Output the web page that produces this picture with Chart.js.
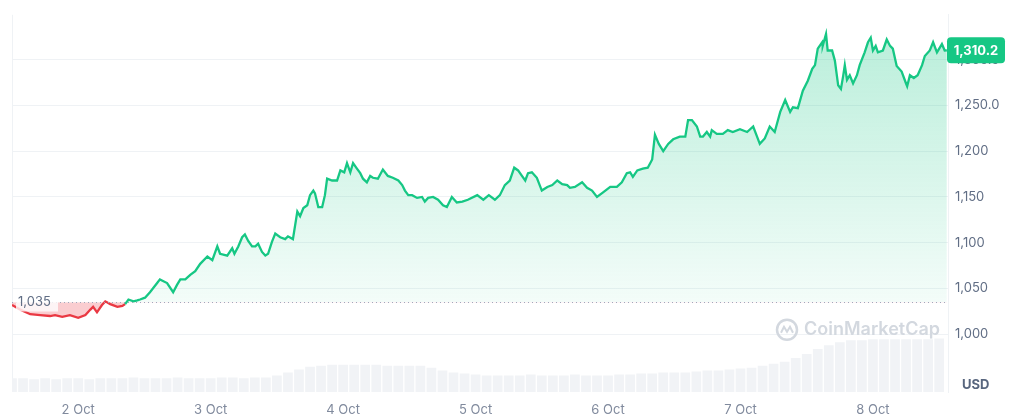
<!DOCTYPE html>
<html>
<head>
<meta charset="utf-8">
<script src="https://cdn.jsdelivr.net/npm/chart.js@4.4.0/dist/chart.umd.min.js"></script>
<style>
  html, body { margin: 0; padding: 0; background: #fff; }
  #wrap { width: 1011px; height: 417px; position: relative; }
</style>
</head>
<body>
<div id="wrap"><canvas id="priceChart"></canvas></div>
<script>
// hours counted from 1 Oct 00:00
const hours = [
  12.0, 13.5, 15.3, 17.1, 18.9, 19.8, 21.1, 22.5, 24.0, 25.3,
  26.2, 26.7, 27.4, 28.3, 28.9, 29.8, 31.1, 32.0, 32.5, 33.1,
  34.0, 34.7, 35.2, 36.1, 37.0, 38.3, 38.8, 40.1, 41.2, 41.9,
  42.5, 43.4, 44.3, 45.2, 46.1, 47.4, 48.3, 49.2, 49.7, 51.0,
  51.9, 52.3, 53.0, 53.7, 54.2, 54.8, 55.5, 56.1, 56.6, 57.3,
  57.9, 58.4, 59.1, 59.7, 60.6, 61.5, 62.0, 62.9, 63.7, 64.2,
  64.8, 65.5, 66.0, 66.6, 66.9, 67.5, 68.2, 68.7, 69.1, 70.0,
  70.9, 71.5, 72.2, 72.7, 73.3, 73.8, 74.5, 75.1, 75.6, 76.3,
  76.9, 77.4, 78.3, 79.2, 80.1, 81.0, 82.0, 82.7, 83.2, 83.8,
  84.5, 85.4, 86.3, 86.8, 87.4, 88.3, 89.2, 90.1, 90.8, 91.7,
  92.6, 93.6, 94.6, 96.3, 97.4, 98.4, 99.5, 100.4, 101.3, 102.2,
  103.0, 103.7, 104.4, 105.0, 105.5, 106.2, 107.1, 108.0, 109.0, 109.9,
  110.8, 111.7, 112.6, 113.1, 114.0, 115.3, 116.2, 117.1, 118.0, 119.1,
  120.4, 121.6, 122.5, 123.4, 124.0, 124.5, 125.3, 126.3, 127.2, 128.0,
  128.5, 129.2, 130.0, 130.9, 131.8, 133.0, 134.0, 134.5, 135.2, 136.1,
  136.7, 137.2, 137.9, 138.5, 138.8, 139.7, 140.8, 141.7, 142.6, 143.9,
  145.2, 146.3, 147.0, 147.5, 148.4, 149.3, 150.2, 151.2, 152.1, 153.0,
  153.5, 154.4, 155.3, 156.2, 157.0, 157.5, 158.0, 158.8, 158.9, 159.5,
  159.8, 160.6, 161.1, 161.7, 162.2, 162.6, 162.9, 163.3, 163.8, 164.4,
  165.1, 165.6, 166.5, 167.1, 167.6, 168.0, 168.5, 168.9, 169.8, 170.5,
  171.1, 171.6, 172.3, 173.2, 174.0, 174.2, 174.7, 175.4, 176.1, 176.9,
  177.4, 178.3, 178.9, 179.6, 180.5, 181.0, 181.4
];
const prices = [
  1032, 1027, 1022, 1021, 1020, 1021, 1019, 1021, 1018, 1021,
  1027, 1030, 1024, 1032, 1036, 1033, 1030, 1031, 1033, 1038,
  1036, 1037, 1038, 1040, 1046, 1056, 1060, 1056, 1046, 1054,
  1060, 1060, 1065, 1069, 1077, 1085, 1081, 1096, 1088, 1086,
  1094, 1088, 1096, 1106, 1109, 1102, 1096, 1096, 1099, 1090,
  1086, 1088, 1101, 1110, 1106, 1104, 1107, 1104, 1134, 1129,
  1138, 1141, 1152, 1157, 1154, 1139, 1139, 1152, 1170, 1168,
  1168, 1179, 1177, 1187, 1177, 1187, 1181, 1176, 1170, 1166,
  1173, 1171, 1170, 1180, 1173, 1171, 1168, 1163, 1157, 1152,
  1152, 1149, 1150, 1145, 1149, 1150, 1147, 1141, 1139, 1150,
  1144, 1145, 1147, 1152, 1147, 1152, 1147, 1152, 1163, 1168,
  1182, 1179, 1173, 1168, 1176, 1177, 1171, 1157, 1161, 1163,
  1168, 1164, 1163, 1160, 1161, 1166, 1160, 1157, 1150, 1155,
  1161, 1161, 1166, 1176, 1177, 1172, 1179, 1181, 1182, 1191,
  1218, 1208, 1200, 1208, 1213, 1216, 1216, 1234, 1234, 1227,
  1216, 1216, 1221, 1216, 1223, 1219, 1219, 1223, 1221, 1224,
  1221, 1227, 1216, 1208, 1214, 1227, 1221, 1243, 1256, 1243,
  1248, 1247, 1266, 1277, 1290, 1294, 1312, 1319, 1315, 1328,
  1310, 1310, 1299, 1272, 1268, 1282, 1294, 1278, 1283, 1274,
  1283, 1294, 1308, 1319, 1324, 1310, 1315, 1308, 1310, 1322,
  1315, 1312, 1293, 1287, 1274, 1271, 1283, 1280, 1283, 1294,
  1304, 1310, 1319, 1308, 1317, 1310, 1310.2
];

// volume, 2-hour buckets (millions USD)
const volumeHours = [
  12, 14, 16, 18, 20, 22, 24, 26, 28, 30, 32, 34, 36, 38, 40, 42, 44, 46, 48, 50,
  52, 54, 56, 58, 60, 62, 64, 66, 68, 70, 72, 74, 76, 78, 80, 82, 84, 86, 88, 90,
  92, 94, 96, 98, 100, 102, 104, 106, 108, 110, 112, 114, 116, 118, 120, 122, 124, 126, 128, 130,
  132, 134, 136, 138, 140, 142, 144, 146, 148, 150, 152, 154, 156, 158, 160, 162, 164, 166, 168, 170,
  172, 174, 176, 178, 180
];
const volumes = [
  140, 140, 130, 140, 130, 140, 140, 130, 140, 140, 140, 150, 140, 140, 140, 150, 140, 140, 140, 150,
  150, 140, 150, 150, 170, 200, 230, 260, 270, 280, 280, 280, 280, 280, 270, 270, 270, 270, 250, 220,
  200, 190, 180, 170, 170, 170, 170, 180, 170, 170, 170, 180, 170, 170, 170, 180, 180, 190, 190, 200,
  200, 200, 210, 220, 220, 230, 240, 250, 270, 290, 310, 350, 390, 440, 480, 510, 530, 530, 540, 540,
  540, 540, 540, 540, 550
];

const tickHours = [24, 48, 72, 96, 120, 144, 168];
const tickLabels = ["2 Oct", "3 Oct", "4 Oct", "5 Oct", "6 Oct", "7 Oct", "8 Oct"];
const priceTicks = [1000, 1050, 1100, 1150, 1200, 1250, 1300];
const baselinePrice = 1035;
const lastPrice = 1310.2;

const GREEN = "#16c784";
const RED = "#ea3943";
const FONT = "Inter, 'Noto Sans', sans-serif";

const canvas = document.getElementById("priceChart");
const ctx = canvas.getContext("2d");
const greenFill = ctx.createLinearGradient(0, 5, 0, 300);
greenFill.addColorStop(0, "rgba(22,199,132,0.32)");
greenFill.addColorStop(1, "rgba(22,199,132,0.05)");

function formatPrice(v) {
  const s = v.toLocaleString("en-US");
  return v === 1250 || v === 1300 ? s + ".0" : s;
}

// extra drawing: frame lines, watermark, baseline, last price badge
const decorations = {
  id: "decorations",
  beforeDatasetsDraw(chart) {
    const { ctx, chartArea: a } = chart;
    ctx.save();
    ctx.strokeStyle = "#eff2f5";
    ctx.lineWidth = 1;
    ctx.beginPath();
    ctx.moveTo(a.left + 0.5, a.top);
    ctx.lineTo(a.left + 0.5, a.bottom);
    ctx.stroke();

    // watermark
    const wy = chart.scales.y.getPixelForValue(1005);
    ctx.strokeStyle = "#d3d8df";
    ctx.lineWidth = 2.5;
    ctx.beginPath();
    ctx.arc(787, wy, 10, 0, Math.PI * 2);
    ctx.stroke();
    ctx.beginPath();
    ctx.moveTo(781, wy + 3);
    ctx.lineTo(784, wy - 3);
    ctx.lineTo(787, wy + 2);
    ctx.lineTo(790, wy - 3);
    ctx.lineTo(793, wy + 3);
    ctx.lineWidth = 2;
    ctx.stroke();
    ctx.fillStyle = "#d3d8df";
    ctx.font = "600 18px " + FONT;
    ctx.textBaseline = "middle";
    ctx.textAlign = "left";
    ctx.fillText("CoinMarketCap", 804, wy);
    ctx.restore();
  },
  afterDatasetsDraw(chart) {
    const { ctx, chartArea: a, scales } = chart;
    const by = Math.round(scales.y.getPixelForValue(baselinePrice)) + 0.5;
    ctx.save();
    ctx.strokeStyle = "#a1a7bb";
    ctx.lineWidth = 1;
    ctx.setLineDash([1, 3]);
    ctx.beginPath();
    ctx.moveTo(a.left, by);
    ctx.lineTo(a.right, by);
    ctx.stroke();
    ctx.setLineDash([]);

    // baseline label
    ctx.font = "13px " + FONT;
    ctx.fillStyle = "rgba(255,255,255,0.8)";
    ctx.fillRect(a.left + 4, by - 9, 42, 18);
    ctx.fillStyle = "#616e85";
    ctx.textBaseline = "middle";
    ctx.textAlign = "left";
    ctx.fillText("1,035", a.left + 6, by);

    // last price badge
    const ly = scales.y.getPixelForValue(lastPrice);
    const bx = a.right - 1, bw = 58, bh = 26;
    ctx.fillStyle = GREEN;
    ctx.beginPath();
    ctx.roundRect(bx, ly - bh / 2, bw, bh, 4);
    ctx.fill();
    ctx.fillStyle = "#ffffff";
    ctx.font = "bold 13px " + FONT;
    ctx.textAlign = "center";
    ctx.fillText("1,310.2", bx + bw / 2, ly + 1);

    // currency label
    ctx.fillStyle = "#58667e";
    ctx.font = "bold 13px " + FONT;
    ctx.textAlign = "left";
    ctx.fillText("USD", 962, 385);
    ctx.restore();
  }
};

new Chart(canvas, {
  data: {
    datasets: [
      {
        type: "line",
        data: hours.map((h, i) => ({ x: h, y: prices[i] })),
        yAxisID: "y",
        borderWidth: 2.3,
        pointRadius: 0,
        tension: 0,
        segment: {
          borderColor: (c) =>
            (c.p0.parsed.y + c.p1.parsed.y) / 2 < baselinePrice ? RED : GREEN,
        },
        borderColor: GREEN,
        fill: {
          target: { value: baselinePrice },
          above: greenFill,
          below: "rgba(234,57,67,0.25)",
        },
        order: 1,
      },
      {
        type: "bar",
        data: volumeHours.map((h, i) => ({ x: h, y: volumes[i] })),
        yAxisID: "vol",
        backgroundColor: "#f1f3f6",
        barPercentage: 1,
        categoryPercentage: 0.88,
        order: 2,
      },
    ],
  },
  options: {
    responsive: true,
    maintainAspectRatio: false,
    animation: false,
    layout: { padding: { left: 12, top: 5, right: 0, bottom: 0 } },
    plugins: { legend: { display: false }, tooltip: { enabled: false } },
    scales: {
      x: {
        type: "linear",
        offset: false,
        min: 12,
        max: 181.6,
        grid: { display: false, drawTicks: false, offset: false },
        border: { display: false },
        afterBuildTicks: (scale) => {
          scale.ticks = tickHours.map((v) => ({ value: v }));
        },
        afterFit: (scale) => {
          scale.height = 25;
        },
        ticks: {
          autoSkip: false,
          maxRotation: 0,
          padding: 10,
          color: "#808a9d",
          font: { family: FONT, size: 13 },
          callback: (v) => tickLabels[tickHours.indexOf(v)],
        },
      },
      y: {
        position: "right",
        min: 937,
        max: 1349,
        grid: { color: "#eff2f5", drawTicks: false },
        border: { display: true, color: "#eff2f5" },
        afterBuildTicks: (scale) => {
          scale.ticks = priceTicks.map((v) => ({ value: v }));
        },
        afterFit: (scale) => {
          scale.width = 63;
        },
        ticks: {
          padding: 7,
          color: "#616e85",
          font: { family: FONT, size: 13 },
          callback: (v) => formatPrice(v),
        },
      },
      vol: {
        display: false,
        min: 0,
        max: 3870,
      },
    },
  },
  plugins: [decorations],
});
</script>
</body>
</html>
